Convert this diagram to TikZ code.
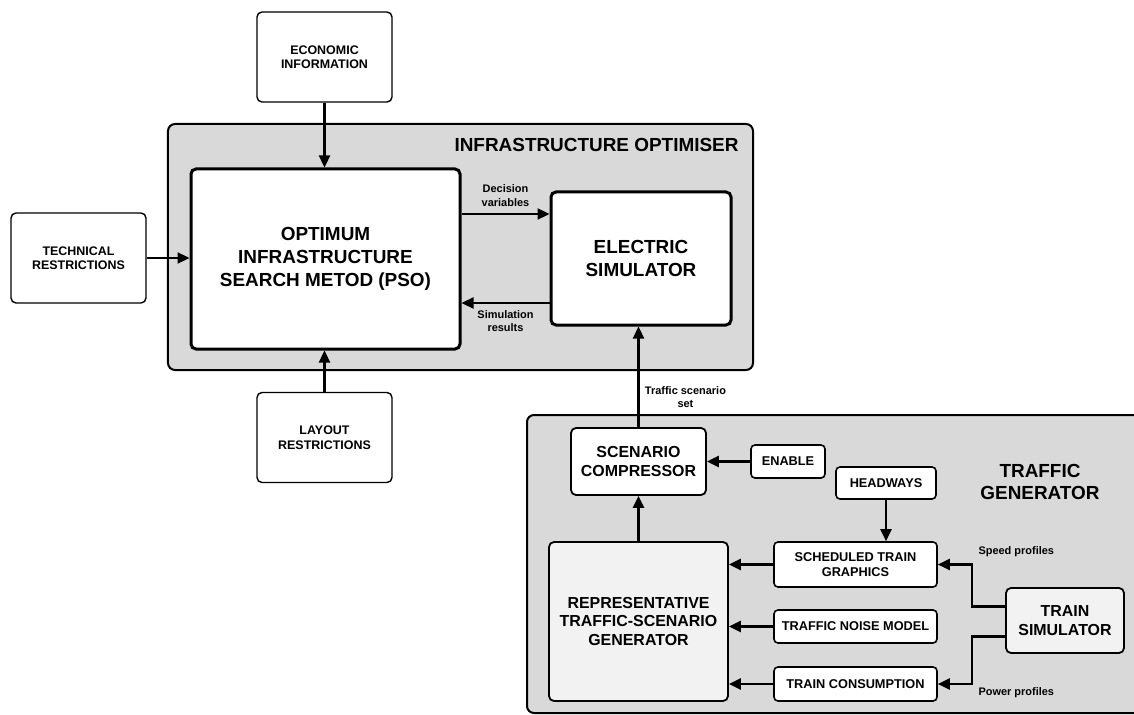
\documentclass[tikz,border=0pt]{standalone}
\usepackage{fontspec}
\setmainfont{Liberation Sans}
\usepackage{tikz}
\usetikzlibrary{arrows.meta,positioning}
\definecolor{panelgray}{HTML}{D9D9D9}
\definecolor{lightgray}{HTML}{F2F2F2}

\begin{document}
\begin{tikzpicture}[
  x=1bp,y=-1bp,
  panel/.style={rectangle,rounded corners=7bp,draw,line width=2bp,fill=panelgray,inner sep=0pt},
  bigbox/.style={rectangle,rounded corners=5bp,draw,line width=3bp,fill=white,align=center,font=\fontsize{19}{23}\selectfont\bfseries},
  outbox/.style={rectangle,rounded corners=5bp,draw,line width=1.4bp,fill=white,align=center,font=\fontsize{12.5}{14.5}\selectfont\bfseries},
  midbox/.style={rectangle,rounded corners=5bp,draw,line width=1.8bp,fill=white,align=center,font=\fontsize{16}{19}\selectfont\bfseries},
  smallbox/.style={rectangle,rounded corners=4bp,draw,line width=1.6bp,fill=white,align=center,font=\fontsize{12.8}{15}\selectfont\bfseries},
  title/.style={font=\fontsize{19}{22}\selectfont\bfseries,align=center},
  lbl/.style={font=\fontsize{11}{13.5}\selectfont\bfseries,align=center},
  arr/.style={-{Triangle[length=12bp,width=11bp]},line width=2.3bp}
]
\useasboundingbox (0,0) rectangle (1134,715);
\clip (0,0) rectangle (1134,715);

\node[panel,minimum width=585bp,minimum height=246bp] (optpanel) at (460.5,247) {};
\node[title,anchor=east] (opttitle) at (742,145) {INFRASTRUCTURE OPTIMISER};
\node[panel,minimum width=633bp,minimum height=298bp] (trafpanel) at (843.5,564) {};
\node[title] (traftitle) at (1040,482) {TRAFFIC\\GENERATOR};

\node[bigbox,minimum width=269bp,minimum height=180bp] (opt) at (325.5,259) {OPTIMUM\\INFRASTRUCTURE\\SEARCH METOD (PSO)};
\node[bigbox,minimum width=180bp,minimum height=133bp] (elec) at (641,258.5) {ELECTRIC\\SIMULATOR};
\node[outbox,minimum width=135bp,minimum height=90bp] (eco) at (324.5,57) {ECONOMIC\\INFORMATION};
\node[outbox,minimum width=135bp,minimum height=90bp] (tech) at (78.5,258) {TECHNICAL\\RESTRICTIONS};
\node[outbox,minimum width=135bp,minimum height=90bp] (lay) at (324.5,437.5) {LAYOUT\\RESTRICTIONS};

\node[midbox,minimum width=135bp,minimum height=67bp] (scen) at (638.5,461.5) {SCENARIO\\COMPRESSOR};
\node[smallbox,minimum width=74bp,minimum height=33bp] (enab) at (788,461.5) {ENABLE};
\node[smallbox,minimum width=100bp,minimum height=32bp] (head) at (886,483) {HEADWAYS};
\node[midbox,fill=lightgray,minimum width=179bp,minimum height=159bp] (rep) at (638.5,621.5) {REPRESENTATIVE\\TRAFFIC-SCENARIO\\GENERATOR};
\node[smallbox,minimum width=163bp,minimum height=45bp] (sched) at (855.5,564.5) {SCHEDULED TRAIN\\GRAPHICS};
\node[smallbox,minimum width=163bp,minimum height=33bp] (noise) at (855.5,626.5) {TRAFFIC NOISE MODEL};
\node[smallbox,minimum width=163bp,minimum height=34bp] (cons) at (855.5,684) {TRAIN CONSUMPTION};
\node[midbox,fill=lightgray,minimum width=118bp,minimum height=65bp] (tsim) at (1065,620.5) {TRAIN\\SIMULATOR};

\draw[arr] (eco.south) -- (eco.south |- opt.north);
\draw[arr] (tech.east) -- (tech.east -| opt.west);
\draw[arr] (lay.north) -- (lay.north |- opt.south);

\coordinate (dvout) at ([yshift=45bp]opt.east);
\coordinate (srin) at ([yshift=-44bp]opt.east);
\draw[arr] (dvout) -- node[lbl,above=3bp] {Decision\\variables} (dvout -| elec.west);
\draw[arr] (srin -| elec.west) -- node[lbl,below=3bp] {Simulation\\results} (srin);

\draw[arr] (scen.north) -- node[lbl,pos=0.3,right=2bp] {Traffic scenario\\set} (scen.north |- elec.south);
\draw[arr] (enab.west) -- (enab.west -| scen.east);
\draw[arr] (rep.north) -- (rep.north |- scen.south);
\draw[arr] (head.south) -- (head.south |- sched.north);

\draw[arr] (sched.west) -- (sched.west -| rep.east);
\draw[arr] (noise.west) -- (noise.west -| rep.east);
\draw[arr] (cons.west) -- (cons.west -| rep.east);

\coordinate (spdout) at ([yshift=14bp]tsim.west);
\coordinate (pwrout) at ([yshift=-16bp]tsim.west);
\draw[arr] (spdout) -- ++(-33,0) |- (sched.east);
\draw[arr] (pwrout) -- ++(-33,0) |- (cons.east);
\node[lbl,anchor=west] (spdlbl) at (975,552) {Speed profiles};
\node[lbl,anchor=west] (pwrlbl) at (975,693) {Power profiles};
\end{tikzpicture}
\end{document}
